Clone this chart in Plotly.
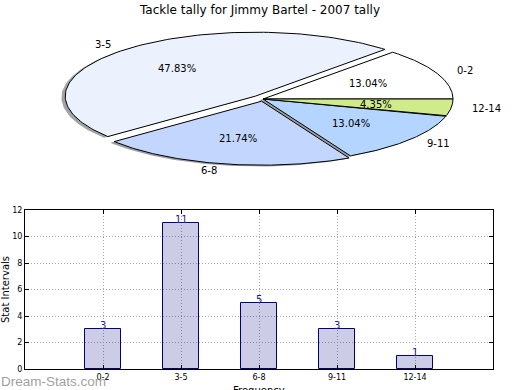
import numpy as np
import plotly.graph_objects as go

# ---- data ----
categories = ["0-2", "3-5", "6-8", "9-11", "12-14"]
tackles = [3, 11, 5, 3, 1]
pie_colors = ["#FFFFFF", "#EBF2FE", "#C3D7FE", "#B3D5FF", "#CFEB8A"]
explode = [0.0, 0.06, 0.035, 0.0, 0.0]
title_text = "Tackle tally for Jimmy Bartel - 2007 tally"
y_ticks = [0, 2, 4, 6, 8, 10, 12]
bar_positions = [1, 2, 3, 4, 5]

W, H = 520, 390
FONT = "DejaVu Sans"

# pie geometry (pixels): centre and radii of the stretched pie axes
cx_px, cy_px, rx_px, ry_px = 263.0, 99.0, 190.0, 64.0
pie_top_px, pie_bot_px = 20.0, 186.0

fig = go.Figure()

total = float(sum(tackles))
angles = np.cumsum([0.0] + [360.0 * v / total for v in tackles])


def hex_to_rgb(h):
    h = h.lstrip("#")
    return tuple(int(h[i:i + 2], 16) for i in (0, 2, 4))


wedges = []
for i, cat in enumerate(categories):
    a0, a1 = angles[i], angles[i + 1]
    mid = np.deg2rad((a0 + a1) / 2.0)
    ox, oy = explode[i] * np.cos(mid), explode[i] * np.sin(mid)
    t = np.deg2rad(np.linspace(a0, a1, 120))
    xs = np.concatenate([[ox], ox + np.cos(t), [ox]])
    ys = np.concatenate([[oy], oy + np.sin(t), [oy]])
    wedges.append((xs, ys, mid, ox, oy))

# shadows (below every wedge)
for i, (xs, ys, mid, ox, oy) in enumerate(wedges):
    r, g, b = hex_to_rgb(pie_colors[i])
    fig.add_trace(go.Scatter(
        x=xs - 0.02, y=ys - 0.02, mode="lines", fill="toself",
        fillcolor=f"rgba({int(r*0.3)},{int(g*0.3)},{int(b*0.3)},0.5)",
        line=dict(width=0), xaxis="x2", yaxis="y2", hoverinfo="skip",
        showlegend=False))

# wedges
for i, (xs, ys, mid, ox, oy) in enumerate(wedges):
    fig.add_trace(go.Scatter(
        x=xs, y=ys, mode="lines", fill="toself", fillcolor=pie_colors[i],
        line=dict(color="black", width=1), xaxis="x2", yaxis="y2",
        name=categories[i], showlegend=False))

annotations = []
for i, (xs, ys, mid, ox, oy) in enumerate(wedges):
    pct = 100.0 * tackles[i] / total
    annotations.append(dict(
        x=ox + 0.6 * np.cos(mid), y=oy + 0.6 * np.sin(mid), xref="x2", yref="y2",
        text=f"{pct:.2f}%", showarrow=False, xanchor="center", yanchor="middle",
        font=dict(family=FONT, size=10, color="black")))
    lx = ox + 1.1 * np.cos(mid)
    annotations.append(dict(
        x=lx, y=oy + 1.1 * np.sin(mid), xref="x2", yref="y2",
        text=categories[i], showarrow=False,
        xanchor="left" if lx > 0 else "right", yanchor="middle",
        font=dict(family=FONT, size=10, color="black")))

# bars
fig.add_trace(go.Bar(
    x=bar_positions, y=tackles, width=0.46,
    marker=dict(color="rgba(0,0,128,0.2)", line=dict(color="#000080", width=1)),
    xaxis="x", yaxis="y", showlegend=False))

for xp, v in zip(bar_positions, tackles):
    annotations.append(dict(
        x=xp, y=v, xref="x", yref="y", text=str(v), showarrow=False,
        xanchor="center", yanchor="bottom", yshift=-4,
        font=dict(family=FONT, size=10, color="#1a1a9a")))

# axis titles, title, watermark
annotations += [
    dict(x=(W / 2 - 1) / W, y=1 - 10 / H, xref="paper", yref="paper", text=title_text,
         showarrow=False, xanchor="center", yanchor="middle",
         font=dict(family=FONT, size=12, color="black")),
    dict(x=259 / W, y=(H - 383) / H, xref="paper", yref="paper", text="Frequency",
         showarrow=False, xanchor="center", yanchor="top",
         font=dict(family=FONT, size=10, color="black")),
    dict(x=5 / W, y=(H - 290) / H, xref="paper", yref="paper", text="Stat Intervals",
         showarrow=False, xanchor="center", yanchor="middle", textangle=-90,
         font=dict(family=FONT, size=10, color="black")),
    dict(x=-1 / W, y=(H - 381.5) / H, xref="paper", yref="paper", text="Dream-Stats.com",
         showarrow=False, xanchor="left", yanchor="middle",
         font=dict(family="Liberation Sans", size=13.5, color="rgba(140,140,140,0.85)")),
]

# pie axis ranges so that a unit circle becomes the drawn ellipse
x2_range = [-cx_px / rx_px, (W - cx_px) / rx_px]
y2_range = [-(pie_bot_px - cy_px) / ry_px, (cy_px - pie_top_px) / ry_px]

ax_common = dict(showline=True, linecolor="black", linewidth=1, mirror="ticks",
                 ticks="inside", ticklen=4, tickcolor="black", automargin=False,
                 showgrid=True, gridcolor="#a8a8a8", griddash="1px,2px", gridwidth=1,
                 zeroline=False, tickfont=dict(family=FONT, size=8, color="black"))

fig.update_layout(
    template="none",
    width=W, height=H, margin=dict(l=0, r=0, t=0, b=0, pad=0, autoexpand=False),
    paper_bgcolor="white", plot_bgcolor="white",
    showlegend=False, bargap=0,
    annotations=annotations,
    xaxis=dict(domain=[25 / W, 493 / W], range=[0, 6], tickvals=bar_positions,
               ticktext=categories, anchor="y", **ax_common),
    yaxis=dict(domain=[(H - 369) / H, (H - 210) / H], range=[0, 12], tickvals=y_ticks,
               anchor="x", **ax_common),
    xaxis2=dict(domain=[0, 1], range=x2_range, visible=False, anchor="y2",
                automargin=False),
    yaxis2=dict(domain=[(H - pie_bot_px) / H, (H - pie_top_px) / H], range=y2_range,
                visible=False, anchor="x2", automargin=False),
)

fig.write_html(
    "out.html",
    config={"displayModeBar": False, "responsive": False},
    post_script=("document.documentElement.style.margin='0';"
                 "document.documentElement.style.overflow='hidden';"
                 "document.body.style.margin='0';document.body.style.padding='0';"
                 "document.body.style.overflow='hidden';"))
